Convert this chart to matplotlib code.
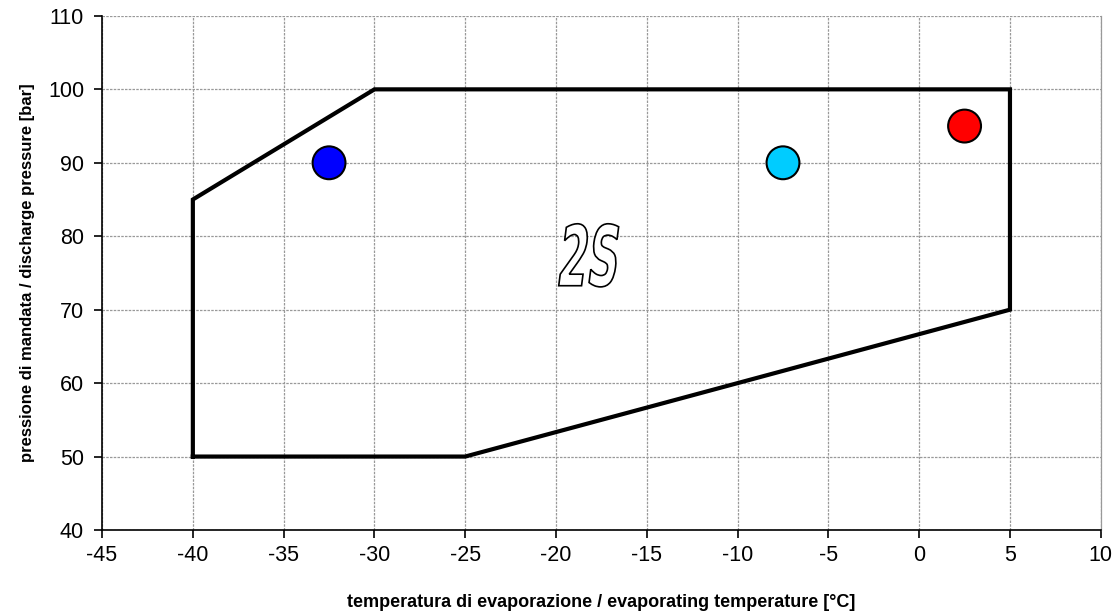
import matplotlib
matplotlib.use("Agg")
import matplotlib.pyplot as plt
from matplotlib.textpath import TextPath
from matplotlib.font_manager import FontProperties
from matplotlib.patches import PathPatch
from matplotlib.transforms import Affine2D

plt.rcParams['font.family'] = ['Liberation Sans', 'DejaVu Sans']
plt.rcParams['axes.unicode_minus'] = False

# envelope of the compressor
env_t = [-40, -40, -30, 5, 5, -25, -40]
env_p = [50, 85, 100, 100, 70, 50, 50]

# operating points
pts_t = [-32.5, -7.5, 2.5]
pts_p = [90, 90, 95]
pts_col = ['#0000FF', '#00CCFF', '#FF0000']

label_text = '2S'
label_pos = (-18.2, 77.4)

xticks = list(range(-45, 11, 5))
yticks = list(range(40, 111, 10))

fig = plt.figure(figsize=(11.13, 6.12), dpi=100)
ax = fig.add_axes([0.0917, 0.134, 0.8973, 0.840])

ax.plot(env_t, env_p, color='black', lw=3, solid_joinstyle='miter', zorder=3)
ax.scatter(pts_t, pts_p, s=560, c=pts_col, edgecolors='black', linewidths=1.5, zorder=4)

# outlined, tall, narrow and slanted "2S" label
fp = FontProperties(family='DejaVu Sans', weight='bold')
tp = TextPath((0, 0), label_text, size=1, prop=fp)
tp = Affine2D().skew_deg(14, 0).transform_path(tp)
bb = tp.get_extents()
w_data, h_data = 3.3, 8.6
tr = (Affine2D().translate(-(bb.x0 + bb.x1) / 2, -(bb.y0 + bb.y1) / 2)
      .scale(w_data / bb.width, h_data / bb.height)
      .translate(*label_pos))
ax.add_patch(PathPatch(tr.transform_path(tp), facecolor='white',
                       edgecolor='black', lw=1.2, zorder=5))

ax.set_xlim(-45, 10)
ax.set_ylim(40, 110)
ax.set_xticks(xticks)
ax.set_yticks(yticks)
ax.tick_params(labelsize=15.5, length=6, direction='out', width=1.2, pad=5)
ax.tick_params(axis='y', pad=7)
ax.grid(True, color='#999999', linestyle=(0, (2, 1)), lw=0.9)
ax.set_axisbelow(True)

ax.spines['top'].set_visible(False)
ax.spines['right'].set_color('#999999')
ax.spines['right'].set_linewidth(0.9)
ax.spines['left'].set_linewidth(1.2)
ax.spines['bottom'].set_linewidth(1.2)

ax.set_xlabel('temperatura di evaporazione / evaporating temperature [°C]',
              fontsize=13, fontweight='bold', labelpad=20)
ax.set_ylabel('pressione di mandata / discharge pressure [bar]',
              fontsize=12, fontweight='bold', labelpad=9)

fig.savefig('out.png', dpi=100)
